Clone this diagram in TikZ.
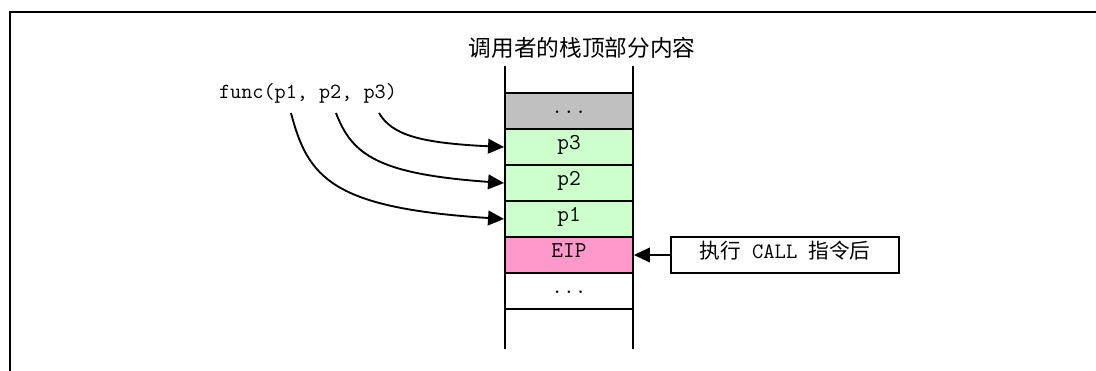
\documentclass[tikz,border=0pt]{standalone}
\usepackage{fontspec}
\newfontfamily\cjk{Noto Sans CJK SC}
\usetikzlibrary{arrows.meta}
\definecolor{cellgray}{HTML}{C0C0C0}
\definecolor{cellgreen}{HTML}{CCFFCC}
\definecolor{cellpink}{HTML}{FF99CC}
\tikzset{
  cell/.style={draw=black, line width=1.4pt, minimum width=96pt, minimum height=27pt,
    inner sep=0pt, text height=0.62em, text depth=0.2em, font=\ttfamily\fontsize{17pt}{19pt}\selectfont},
  callbox/.style={draw=black, line width=1.4pt, minimum width=171pt, minimum height=27pt,
    inner sep=0pt, text height=0.75em, text depth=0.2em, font=\ttfamily\fontsize{16.5pt}{18pt}\selectfont},
  arr/.style={line width=1.4pt, -{Triangle[length=12pt,width=11pt]}},
  stackline/.style={line width=1.4pt}
}
\begin{document}
\begin{tikzpicture}[x=0.75pt,y=-0.75pt]
\useasboundingbox (0,0) rectangle (1096,371);
\begin{scope}
\clip (0,0) rectangle (1096,371);
\draw[line width=1.9pt] (10,380) -- (10,12) -- (1110,12);
\end{scope}
% title
\node[inner sep=0pt, font=\cjk\fontsize{17pt}{19pt}\selectfont] (title) at (582,48) {调用者的栈顶部分内容};
% stack vertical lines
\coordinate (lt) at (505,66);
\coordinate (lb) at (505,349);
\coordinate (rt) at (633,66);
\coordinate (rb) at (633,349);
\draw[stackline] (lt) -- (lb);
\draw[stackline] (rt) -- (rb);
% cells
\node[cell, fill=cellgray] (top) at (569,111) {...};
\node[cell, fill=cellgreen] (p3) at (569,147) {p3};
\node[cell, fill=cellgreen] (p2) at (569,183) {p2};
\node[cell, fill=cellgreen] (p1) at (569,219) {p1};
\node[cell, fill=cellpink] (eip) at (569,255) {EIP};
\node[cell, fill=white] (bot) at (569,291) {...};
% func text
\node[inner sep=0pt, anchor=base, font=\ttfamily\fontsize{16.2pt}{18pt}\selectfont] (func) at (308,98) {func(p1, p2, p3)};
\coordinate (s1) at (291,113);
\coordinate (s2) at (336,113);
\coordinate (s3) at (379,113);
\draw[arr] (s3) .. controls (392,135) and (420,143) .. (p3.west);
\draw[arr] (s2) .. controls (352,155) and (378,174) .. (p2.west);
\draw[arr] (s1) .. controls (308,178) and (332,208) .. (p1.west);
% call box
\node[callbox] (call) at (785,255) {{\cjk\fontsize{15.5pt}{17pt}\selectfont 执行} CALL {\cjk\fontsize{15.5pt}{17pt}\selectfont 指令后}};
\draw[arr] (call.west) -- (eip.east);
\end{tikzpicture}
\end{document}
